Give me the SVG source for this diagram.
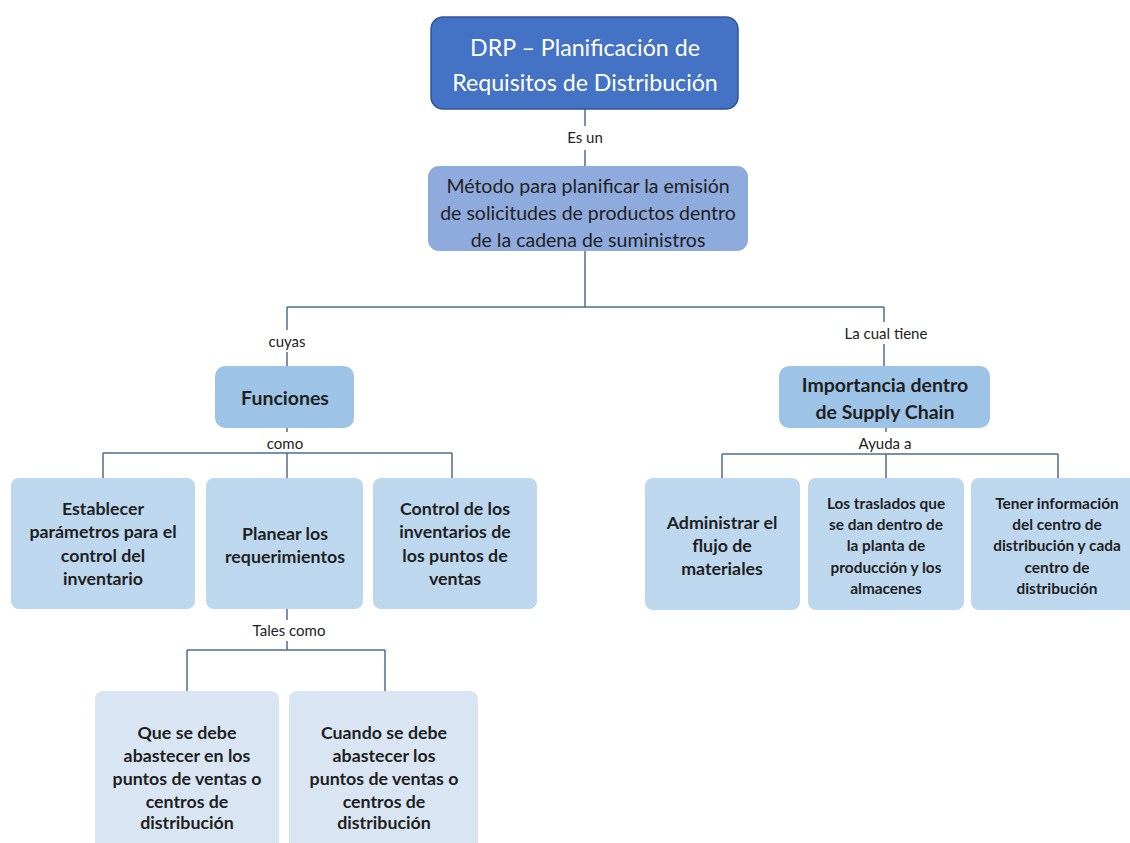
<svg xmlns="http://www.w3.org/2000/svg" width="1130" height="843" viewBox="0 0 1130 843">
  <style>
    .conn { stroke: #4F6D8F; stroke-width: 1.5; fill: none; }
    .lbl { font-family: Lato, "Liberation Sans", sans-serif; font-size: 15px; fill: #222; text-anchor: middle; dominant-baseline: central; }
    .title { font-family: Lato, "Liberation Sans", sans-serif; font-size: 23.2px; fill: #ffffff; text-anchor: middle; dominant-baseline: central; }
    .def { font-family: Lato, "Liberation Sans", sans-serif; font-size: 19.5px; fill: #1f1f1f; text-anchor: middle; dominant-baseline: central; }
    .head { font-family: Lato, "Liberation Sans", sans-serif; font-size: 19.5px; font-weight: bold; fill: #1f1f1f; text-anchor: middle; dominant-baseline: central; }
    .bold { font-family: Lato, "Liberation Sans", sans-serif; font-size: 17.8px; font-weight: bold; fill: #1f1f1f; text-anchor: middle; dominant-baseline: central; }
    .small { font-family: Lato, "Liberation Sans", sans-serif; font-size: 15.4px; font-weight: bold; fill: #1f1f1f; text-anchor: middle; dominant-baseline: central; }
    .n0 { fill: #4472C4; stroke: #2F5597; stroke-width: 1.5; }
    .n1 { fill: #8FAADC; }
    .n2 { fill: #9DC3E6; }
    .n3 { fill: #BDD7EE; }
    .n4 { fill: #D9E5F2; }
  </style>
  <rect width="1130" height="843" fill="#ffffff"/>

  <!-- connectors -->
  <g id="connectors">
    <path class="conn" d="M585,109 V126 M585,150 V166"/>
    <path class="conn" d="M585,251 V307 M287,307 H884"/>
    <path class="conn" d="M287,307 V330 M287,352 V366"/>
    <path class="conn" d="M884,307 V322 M884,344 V366"/>
    <path class="conn" d="M287,428 V432 M103,453 H452 M103,453 V478 M287,453 V478 M452,453 V478"/>
    <path class="conn" d="M886,428 V432 M722,454 H1058 M722,454 V478 M886,454 V478 M1058,454 V478"/>
    <path class="conn" d="M287,609 V620 M287,641 V650 M187,650 H385 M187,650 V691 M385,650 V691"/>
    <text class="lbl" x="585" y="137">Es un</text>
    <text class="lbl" x="287" y="341">cuyas</text>
    <text class="lbl" x="886" y="333">La cual tiene</text>
    <text class="lbl" x="285" y="443">como</text>
    <text class="lbl" x="885" y="443">Ayuda a</text>
    <text class="lbl" x="289" y="630">Tales como</text>
  </g>

  <g id="drp">
    <rect class="n0" x="431" y="17" width="307" height="92" rx="12"/>
    <text class="title" x="585" y="47">DRP – Planificación de</text>
    <text class="title" x="585" y="82">Requisitos de Distribución</text>
  </g>

  <g id="metodo">
    <rect class="n1" x="428" y="166" width="320" height="85" rx="11"/>
    <text class="def" x="588" y="185">Método para planificar la emisión</text>
    <text class="def" x="588" y="212">de solicitudes de productos dentro</text>
    <text class="def" x="588" y="239">de la cadena de suministros</text>
  </g>

  <g id="funciones">
    <rect class="n2" x="215" y="366" width="139" height="62" rx="10"/>
    <text class="head" x="285" y="397">Funciones</text>
  </g>

  <g id="importancia">
    <rect class="n2" x="779" y="366" width="211" height="62" rx="10"/>
    <text class="head" x="885" y="384">Importancia dentro</text>
    <text class="head" x="885" y="411">de Supply Chain</text>
  </g>

  <g id="establecer">
    <rect class="n3" x="11" y="478" width="184" height="131" rx="8"/>
    <text class="bold" x="103" y="508">Establecer</text>
    <text class="bold" x="103" y="531">parámetros para el</text>
    <text class="bold" x="103" y="555">control del</text>
    <text class="bold" x="103" y="578">inventario</text>
  </g>

  <g id="planear">
    <rect class="n3" x="206" y="478" width="157" height="131" rx="8"/>
    <text class="bold" x="285" y="533">Planear los</text>
    <text class="bold" x="285" y="556">requerimientos</text>
  </g>

  <g id="control">
    <rect class="n3" x="373" y="478" width="164" height="131" rx="8"/>
    <text class="bold" x="455" y="508">Control de los</text>
    <text class="bold" x="455" y="531">inventarios de</text>
    <text class="bold" x="455" y="555">los puntos de</text>
    <text class="bold" x="455" y="578">ventas</text>
  </g>

  <g id="administrar">
    <rect class="n3" x="645" y="478" width="155" height="132" rx="8"/>
    <text class="bold" x="722" y="522">Administrar el</text>
    <text class="bold" x="722" y="545">flujo de</text>
    <text class="bold" x="722" y="568">materiales</text>
  </g>

  <g id="traslados">
    <rect class="n3" x="808" y="478" width="156" height="132" rx="8"/>
    <text class="small" x="886" y="503">Los traslados que</text>
    <text class="small" x="886" y="524">se dan dentro de</text>
    <text class="small" x="886" y="545">la planta de</text>
    <text class="small" x="886" y="567">producción y los</text>
    <text class="small" x="886" y="588">almacenes</text>
  </g>

  <g id="informacion">
    <rect class="n3" x="971" y="478" width="170" height="132" rx="8"/>
    <text class="small" x="1057" y="503">Tener información</text>
    <text class="small" x="1057" y="524">del centro de</text>
    <text class="small" x="1057" y="545">distribución y cada</text>
    <text class="small" x="1057" y="567">centro de</text>
    <text class="small" x="1057" y="588">distribución</text>
  </g>

  <g id="que">
    <rect class="n4" x="95" y="691" width="184" height="170" rx="8"/>
    <text class="bold" x="187" y="732">Que se debe</text>
    <text class="bold" x="187" y="755">abastecer en los</text>
    <text class="bold" x="187" y="778">puntos de ventas o</text>
    <text class="bold" x="187" y="801">centros de</text>
    <text class="bold" x="187" y="822">distribución</text>
  </g>

  <g id="cuando">
    <rect class="n4" x="289" y="691" width="189" height="170" rx="8"/>
    <text class="bold" x="384" y="732">Cuando se debe</text>
    <text class="bold" x="384" y="755">abastecer los</text>
    <text class="bold" x="384" y="778">puntos de ventas o</text>
    <text class="bold" x="384" y="801">centros de</text>
    <text class="bold" x="384" y="822">distribución</text>
  </g>
</svg>
